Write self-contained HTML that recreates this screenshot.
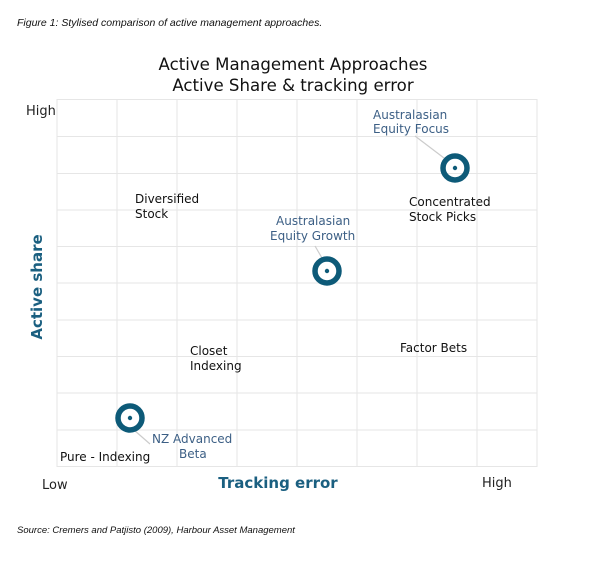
<!DOCTYPE html>
<html><head><meta charset="utf-8"><style>
body{margin:0;background:#fff;width:600px;height:561px;overflow:hidden}
</style></head><body>
<svg width="600" height="561" xmlns="http://www.w3.org/2000/svg" font-family="DejaVu Sans, sans-serif">
<text x="17" y="26" font-family="Liberation Sans, sans-serif" font-style="italic" font-size="10.5" fill="#111">Figure 1: Stylised comparison of active management approaches.</text>
<text x="293" y="70" text-anchor="middle" font-size="16.6" fill="#111">Active Management Approaches</text>
<text x="293" y="91" text-anchor="middle" font-size="16.6" fill="#111">Active Share &amp; tracking error</text>
<g stroke="#e6e6e6" stroke-width="1">
<line x1="57" y1="99.5" x2="537" y2="99.5"/><line x1="57" y1="136.5" x2="537" y2="136.5"/><line x1="57" y1="173.5" x2="537" y2="173.5"/><line x1="57" y1="210" x2="537" y2="210"/><line x1="57" y1="246.5" x2="537" y2="246.5"/><line x1="57" y1="283" x2="537" y2="283"/><line x1="57" y1="320" x2="537" y2="320"/><line x1="57" y1="356.5" x2="537" y2="356.5"/><line x1="57" y1="393" x2="537" y2="393"/><line x1="57" y1="430" x2="537" y2="430"/><line x1="57" y1="466.5" x2="537" y2="466.5"/>
<line x1="57" y1="99" x2="57" y2="467"/><line x1="117" y1="99" x2="117" y2="467"/><line x1="177" y1="99" x2="177" y2="467"/><line x1="237" y1="99" x2="237" y2="467"/><line x1="297" y1="99" x2="297" y2="467"/><line x1="357" y1="99" x2="357" y2="467"/><line x1="417" y1="99" x2="417" y2="467"/><line x1="477" y1="99" x2="477" y2="467"/><line x1="537" y1="99" x2="537" y2="467"/>
</g>
<text x="26" y="115" font-size="13" fill="#222">High</text>
<text x="42" y="489" font-size="13" fill="#222">Low</text>
<text x="482" y="487" font-size="13" fill="#222">High</text>
<text x="278" y="488" text-anchor="middle" font-size="15" font-weight="bold" fill="#1a5f80">Tracking error</text>
<text transform="translate(42,287) rotate(-90)" text-anchor="middle" font-size="15" font-weight="bold" fill="#1a5f80">Active share</text>
<g font-size="12" fill="#111">
<text x="135" y="203">Diversified</text><text x="135" y="218">Stock</text>
<text x="409" y="206">Concentrated</text><text x="409" y="221">Stock Picks</text>
<text x="190" y="355">Closet</text><text x="190" y="370">Indexing</text>
<text x="400" y="352">Factor Bets</text>
<text x="60" y="461">Pure - Indexing</text>
</g>
<g font-size="12" fill="#3c5f85">
<text x="373" y="119">Australasian</text><text x="373" y="133">Equity Focus</text>
<text x="276" y="225">Australasian</text><text x="270" y="240">Equity Growth</text>
<text x="152" y="443">NZ Advanced</text><text x="179" y="458">Beta</text>
</g>
<g stroke="#ccc" stroke-width="1.2" fill="none">
<line x1="415" y1="136" x2="444" y2="158"/>
<line x1="315" y1="246" x2="322" y2="258"/>
<line x1="134" y1="430" x2="150" y2="444"/>
</g>
<g fill="none" stroke="#0d5a78" stroke-width="5.5">
<circle cx="455" cy="168" r="12"/><circle cx="327" cy="271" r="12"/><circle cx="130" cy="418" r="12"/>
</g>
<g fill="#0d5a78"><circle cx="455" cy="168" r="2.2"/><circle cx="327" cy="271" r="2.2"/><circle cx="130" cy="418" r="2.2"/></g>
<text x="17" y="533" font-family="Liberation Sans, sans-serif" font-style="italic" font-size="9.5" fill="#111">Source: Cremers and Patjisto (2009), Harbour Asset Management</text>
</svg>
</body></html>
